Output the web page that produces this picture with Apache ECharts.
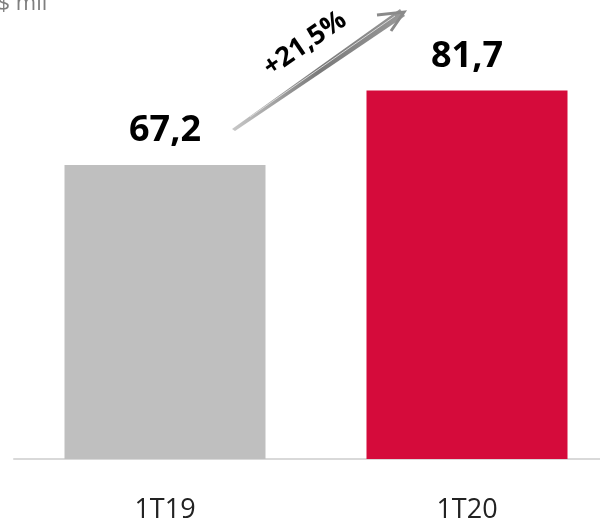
<!DOCTYPE html>
<html><head><meta charset="utf-8">
<script src="https://cdn.jsdelivr.net/npm/echarts@6/dist/echarts.min.js"></script>
<style>html,body{margin:0;padding:0;background:#fff}#c{width:600px;height:521px}</style>
</head><body><div id="c"></div>
<script>
const categories = ['1T19', '1T20'];
const values = [67.2, 81.7];
const valueLabels = ['67,2', '81,7'];
const barColors = ['#bfbfbf', '#d50b3b'];
const unitLabel = 'R$ mil';
const growthLabel = '+21,5%';

const chart = echarts.init(document.getElementById('c'), null, {renderer: 'canvas'});
chart.setOption({
  animation: false,
  grid: {left: 14, right: -18, top: 20, bottom: 62, outerBoundsMode: 'none', containLabel: false},
  xAxis: {
    type: 'category', data: categories,
    axisLine: {lineStyle: {color: '#d9d9d9', width: 2}},
    axisTick: {show: false},
    axisLabel: {color: '#222', fontSize: 27, fontFamily: 'Open Sans', margin: 38}
  },
  yAxis: {type: 'value', min: 10, max: 95.4, show: false, splitLine: {show: false}},
  series: [{
    type: 'bar', barWidth: 201,
    data: values.map((v, i) => ({value: v, itemStyle: {color: barColors[i]}})),
    label: {
      show: true, position: 'top', distance: 16,
      formatter: p => valueLabels[p.dataIndex],
      color: '#000', fontSize: 36, fontWeight: 'bold', fontFamily: 'Open Sans'
    }
  }],
  graphic: [
    {type: 'text', x: -16, y: 15, style: {text: unitLabel, fill: '#7f7f7f', fontSize: 22, fontFamily: 'Open Sans', textAlign: 'left', textVerticalAlign: 'bottom'}},
    {type: 'polygon', shape: {points: [[232,129],[400,9],[405,16],[235,131]]},
      style: {fill: new echarts.graphic.LinearGradient(0,0,1,0,[{offset:0,color:'#c8c8c8'},{offset:0.5,color:'#7a7a7a'},{offset:1,color:'#999'}])}},
    {type: 'line', shape: {x1: 250, y1: 117, x2: 395, y2: 16}, style: {stroke: '#d8d8d8', lineWidth: 1}},
    {type: 'polyline', shape: {points: [[377,15],[404,12],[391,31]]},
      style: {stroke: '#8a8a8a', lineWidth: 3, fill: null}},
    {type: 'text', x: 305, y: 44, rotation: 0.6,
      style: {text: growthLabel, fill: '#000', fontSize: 27, fontWeight: 'bold', fontFamily: 'Open Sans', textAlign: 'center', textVerticalAlign: 'middle'}}
  ]
});
</script></body></html>
